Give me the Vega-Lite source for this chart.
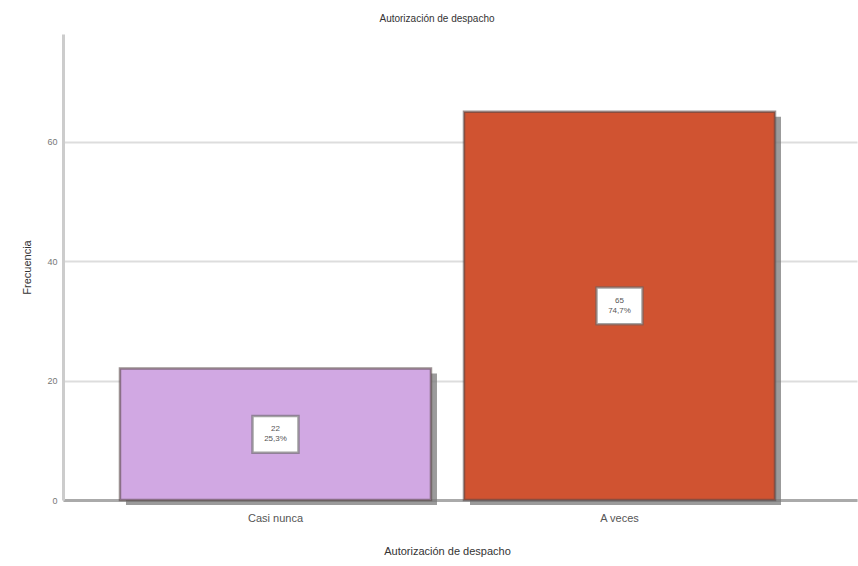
{
  "$schema": "https://vega.github.io/schema/vega-lite/v6.json",
  "autosize": "none",
  "width": 794,
  "height": 466,
  "padding": {"left": 63, "top": 34, "right": 1, "bottom": 66},
  "background": "white",
  "title": {
    "text": "Autorización de despacho",
    "fontSize": 10,
    "fontWeight": "normal",
    "font": "Liberation Sans",
    "color": "#333333",
    "offset": 10,
    "dx": -23
  },
  "config": {
    "view": {"stroke": null},
    "font": "Liberation Sans",
    "axis": {
      "labelFont": "Liberation Sans",
      "titleFont": "Liberation Sans",
      "titleFontWeight": "normal"
    }
  },
  "data": {
    "values": [
      {"categoria": "Casi nunca", "frecuencia": 22, "etiqueta": "22\n25,3%"},
      {"categoria": "A veces", "frecuencia": 65, "etiqueta": "65\n74,7%"}
    ]
  },
  "encoding": {
    "x": {
      "field": "categoria",
      "type": "nominal",
      "sort": ["Casi nunca", "A veces"],
      "scale": {"paddingInner": 0.096, "paddingOuter": 0.202, "align": 0.41},
      "axis": {
        "title": "Autorización de despacho",
        "titleFontSize": 11,
        "titleColor": "#333333",
        "titlePadding": 22,
        "titleX": 384,
        "labelAngle": 0,
        "labelFontSize": 11,
        "labelColor": "#555555",
        "labelPadding": 12,
        "ticks": false,
        "domainColor": "#aaaaaa",
        "domainWidth": 3
      }
    }
  },
  "layer": [
    {
      "mark": {
        "type": "bar",
        "color": "#7a7a7a",
        "opacity": 0.75,
        "xOffset": 6,
        "x2Offset": 6,
        "yOffset": 5,
        "y2Offset": 3
      },
      "encoding": {
        "y": {
          "field": "frecuencia",
          "type": "quantitative",
          "scale": {"domain": [0, 78], "nice": false},
          "axis": {
            "title": "Frecuencia",
            "titleFontSize": 11,
            "titleColor": "#333333",
            "titlePadding": 14,
            "values": [0, 20, 40, 60],
            "labelFontSize": 9,
            "labelColor": "#777777",
            "labelPadding": 6,
            "ticks": false,
            "grid": true,
            "gridColor": "#dddddd",
            "gridWidth": 2,
            "domainColor": "#cccccc",
            "domainWidth": 3
          }
        }
      }
    },
    {
      "mark": {
        "type": "bar",
        "stroke": "#5a4a4a",
        "strokeOpacity": 0.6,
        "strokeWidth": 2.5
      },
      "encoding": {
        "y": {"field": "frecuencia", "type": "quantitative"},
        "color": {
          "field": "categoria",
          "type": "nominal",
          "sort": ["Casi nunca", "A veces"],
          "scale": {"range": ["#d1a8e3", "#d05331"]},
          "legend": null
        }
      }
    },
    {
      "transform": [{"calculate": "datum.frecuencia / 2", "as": "medio"}],
      "mark": {
        "type": "point",
        "shape": "M-1,-0.8L1,-0.8L1,0.8L-1,0.8Z",
        "size": 2116,
        "filled": true,
        "fill": "white",
        "opacity": 1,
        "stroke": "#666666",
        "strokeOpacity": 0.6,
        "strokeWidth": 2.5
      },
      "encoding": {
        "y": {"field": "medio", "type": "quantitative"}
      }
    },
    {
      "transform": [{"calculate": "datum.frecuencia / 2", "as": "medio"}],
      "mark": {
        "type": "text",
        "fontSize": 8,
        "lineHeight": 10,
        "lineBreak": "\n",
        "color": "#555555",
        "baseline": "middle",
        "dy": -5
      },
      "encoding": {
        "y": {"field": "medio", "type": "quantitative"},
        "text": {"field": "etiqueta"}
      }
    }
  ]
}
